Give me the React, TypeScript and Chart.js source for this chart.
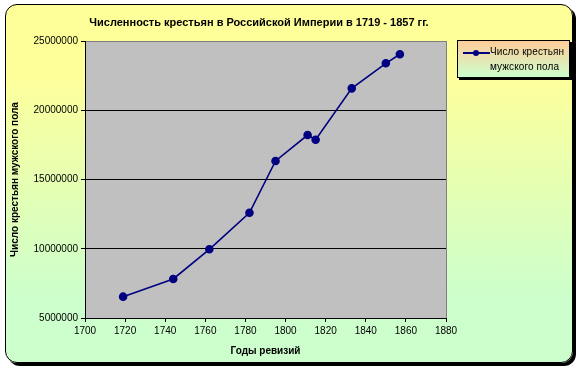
import React, { useEffect, useRef } from "react";
import { Chart, registerables } from "chart.js";

Chart.register(...registerables);

const revisionYears = [1719, 1744, 1762, 1782, 1795, 1811, 1815, 1833, 1850, 1857];
const malePeasants = [6540000, 7820000, 9960000, 12600000, 16340000, 18210000, 17870000, 21580000, 23390000, 24040000];
const xRange = [1700, 1880];
const xStep = 20;
const yRange = [5000000, 25000000];
const yStep = 5000000;

const chartTitle = "Численность крестьян в Российской Империи в 1719 - 1857 гг.";
const xTitle = "Годы ревизий";
const yTitle = "Число крестьян мужского пола";
const seriesName = ["Число крестьян", "мужского пола"];

const FONT = "'Liberation Sans', Arial, sans-serif";
const NAVY = "#000080";

const plotBg = {
  id: "plotBg",
  beforeDraw(chart: any) {
    const { ctx, chartArea: a } = chart;
    ctx.save();
    ctx.fillStyle = "#C0C0C0";
    ctx.fillRect(a.left, a.top, a.right - a.left, a.bottom - a.top);
    ctx.restore();
  },
  beforeDatasetsDraw(chart: any) {
    const { ctx, chartArea: a } = chart;
    ctx.save();
    ctx.strokeStyle = "#808080";
    ctx.lineWidth = 1;
    ctx.beginPath();
    ctx.moveTo(Math.round(a.right) + 0.5, a.top);
    ctx.lineTo(Math.round(a.right) + 0.5, a.bottom);
    ctx.stroke();
    ctx.restore();
  },
};

export default function App() {
  const ref = useRef<HTMLCanvasElement | null>(null);

  useEffect(() => {
    if (!ref.current) return;
    const chart = new Chart(ref.current, {
      type: "line",
      data: {
        datasets: [
          {
            label: seriesName.join(" "),
            data: revisionYears.map((x, i) => ({ x, y: malePeasants[i] })),
            borderColor: NAVY,
            backgroundColor: NAVY,
            borderWidth: 1.6,
            pointRadius: 3.5,
            pointBackgroundColor: NAVY,
            pointBorderColor: NAVY,
            tension: 0,
            fill: false,
          },
        ],
      },
      options: {
        responsive: false,
        animation: false,
        devicePixelRatio: 1,
        layout: { padding: { left: 0, top: 41, right: 136, bottom: 0 } },
        plugins: {
          legend: { display: false },
          title: { display: false },
          tooltip: { enabled: false },
        },
        scales: {
          x: {
            type: "linear",
            min: xRange[0],
            max: xRange[1],
            ticks: {
              stepSize: xStep,
              autoSkip: false,
              maxRotation: 0,
              color: "#000",
              padding: 3,
              font: { family: FONT, size: 10 },
              callback: (v: any) => String(v),
            },
            grid: { drawOnChartArea: false, drawTicks: true, tickLength: 4, tickColor: "#000" },
            border: { color: "#000", width: 1 },
            title: {
              display: true,
              text: xTitle,
              color: "#000",
              font: { family: FONT, size: 10, weight: "bold" },
              padding: { top: 0, bottom: 13 },
            },
            afterFit: (s: any) => {
              s.height = 52;
            },
          },
          y: {
            min: yRange[0],
            max: yRange[1],
            ticks: {
              stepSize: yStep,
              color: "#000",
              padding: 3,
              font: { family: FONT, size: 10 },
              callback: (v: any) => String(v),
            },
            grid: {
              color: (c: any) => (c.tick && c.tick.value === yRange[1] ? "#808080" : "#000"),
              tickLength: 4,
              tickColor: "#000",
              lineWidth: 1,
            },
            border: { color: "#000", width: 1 },
            title: {
              display: true,
              text: yTitle,
              color: "#000",
              font: { family: FONT, size: 10, weight: "bold" },
              padding: { top: 9, bottom: 0 },
            },
            afterFit: (s: any) => {
              s.width = 85;
            },
          },
        },
      } as any,
      plugins: [plotBg],
    });
    return () => chart.destroy();
  }, []);

  return (
    <div style={{ position: "fixed", left: 0, top: 0, width: 582, height: 370, background: "#fff", overflow: "hidden" }}>
      <div
        style={{
          position: "absolute",
          left: 5,
          top: 4,
          width: 566,
          height: 357,
          border: "1px solid #000",
          borderRadius: 12,
          boxShadow: "3px 3px 0 #000",
          background: "linear-gradient(to bottom, #FFFF99 18%, #CCFFCC 82%)",
        }}
      />
      <canvas ref={ref} width={582} height={370} style={{ position: "absolute", left: 0, top: 0, width: 582, height: 370 }} />
      <div
        style={{
          position: "absolute",
          left: 0,
          width: 518,
          top: 15,
          textAlign: "center",
          fontFamily: FONT,
          fontWeight: "bold",
          fontSize: 11,
          lineHeight: "15px",
          color: "#000",
          whiteSpace: "nowrap",
        }}
      >
        {chartTitle}
      </div>
      <div
        style={{
          position: "absolute",
          left: 457,
          top: 40,
          width: 111,
          height: 36,
          border: "1px solid #000",
          boxShadow: "2px 2px 0 #000",
          background: "linear-gradient(to bottom, #FFCC99, #CCFFCC)",
          fontFamily: FONT,
          fontSize: 10,
          color: "#000",
        }}
      >
        <div style={{ position: "absolute", left: 5, top: 11, width: 27, height: 2, background: NAVY }} />
        <div style={{ position: "absolute", left: 15, top: 9, width: 6, height: 6, borderRadius: 3, background: NAVY }} />
        <div style={{ position: "absolute", left: 32, top: 5, lineHeight: "12px", whiteSpace: "nowrap", letterSpacing: 0.1 }}>
          {seriesName[0]}
        </div>
        <div style={{ position: "absolute", left: 32, top: 20, lineHeight: "12px", whiteSpace: "nowrap", letterSpacing: 0.1 }}>
          {seriesName[1]}
        </div>
      </div>
    </div>
  );
}
